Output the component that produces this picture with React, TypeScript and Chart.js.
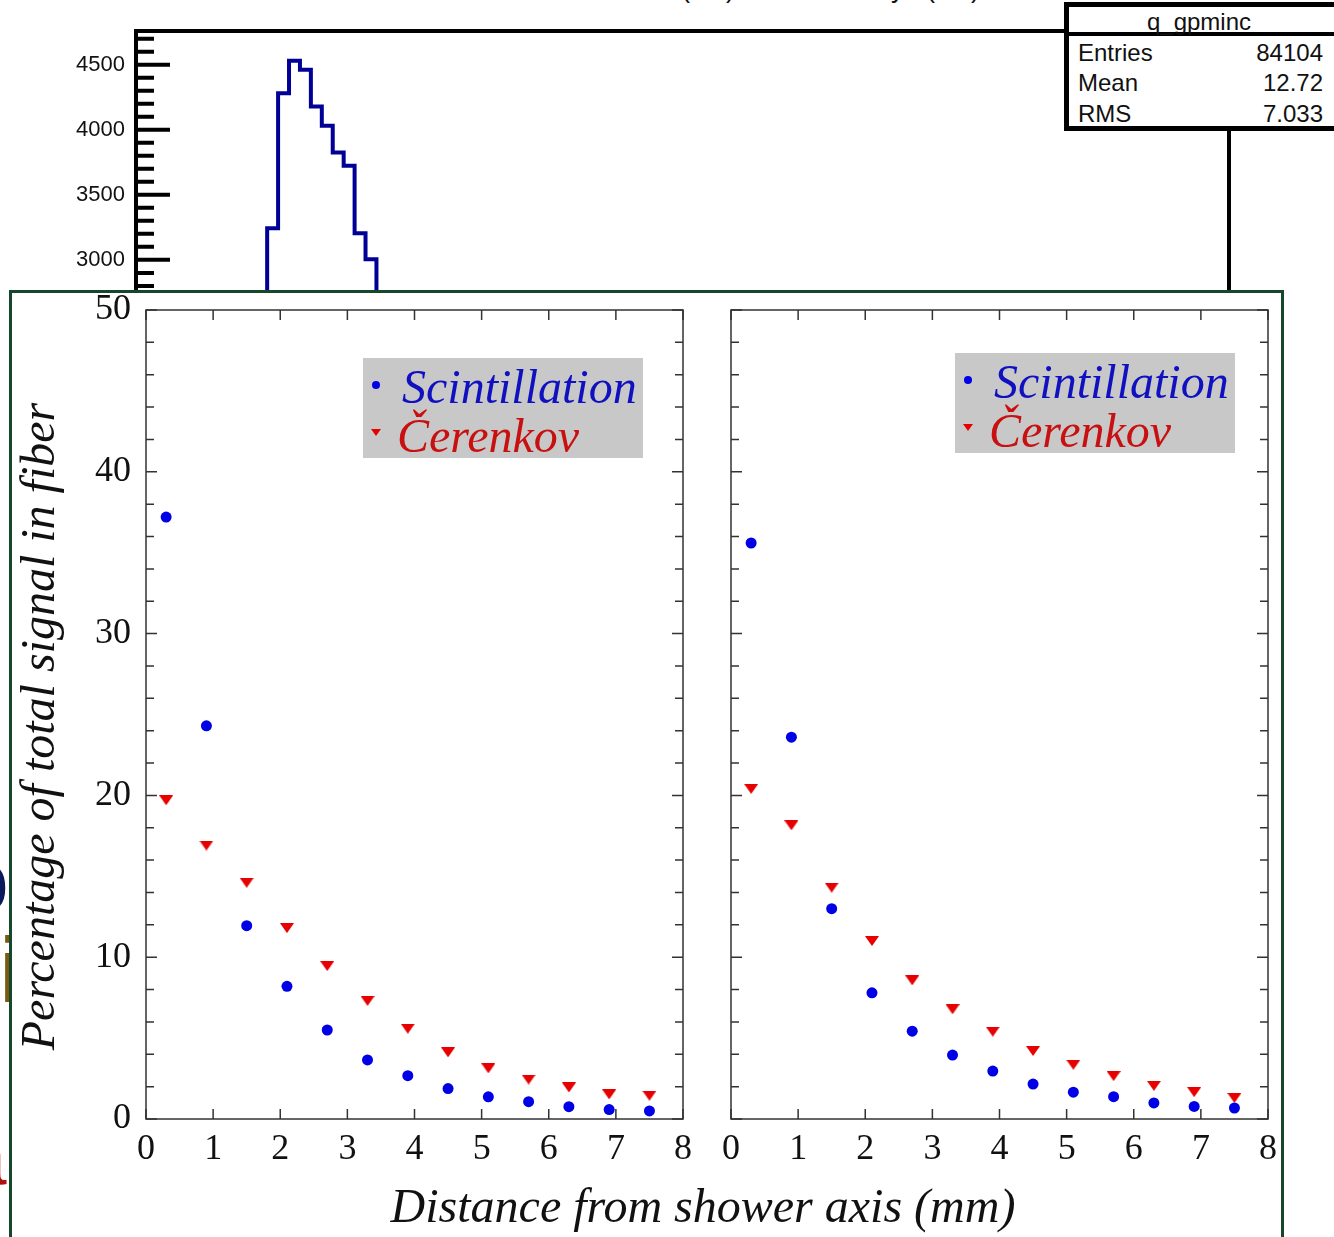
import React, { useEffect, useRef } from "react";
import { Chart, registerables } from "chart.js";

Chart.register(...registerables);

// ---------- Background ROOT histogram "q_gpminc" ----------
const histBinEdges = [12, 13, 14, 15, 16, 17, 18, 19, 20, 21, 22];
const histCounts = [3244, 4282, 4531, 4462, 4179, 4031, 3826, 3723, 3205, 3005];
const histYTicks = [3000, 3500, 4000, 4500];
const histTitle = "q_gpminc";
const histStatsLabels = ["Entries", "Mean", "RMS"];
const histStatsValues = ["84104", "12.72", "7.033"];

// ---------- Overlay: lateral shower profile ----------
const fiberDistance = [0.3, 0.9, 1.5, 2.1, 2.7, 3.3, 3.9, 4.5, 5.1, 5.7, 6.3, 6.9, 7.5];
const leftScintillation = [37.2, 24.3, 11.95, 8.2, 5.5, 3.65, 2.68, 1.88, 1.37, 1.07, 0.76, 0.58, 0.5];
const leftCerenkov = [19.7, 16.9, 14.6, 11.8, 9.45, 7.3, 5.58, 4.12, 3.13, 2.44, 1.95, 1.52, 1.44];
const rightScintillation = [35.6, 23.6, 13.0, 7.8, 5.43, 3.95, 2.96, 2.16, 1.66, 1.38, 0.99, 0.78, 0.68];
const rightCerenkov = [20.4, 18.15, 14.3, 11.0, 8.57, 6.78, 5.4, 4.2, 3.35, 2.65, 2.05, 1.66, 1.3];
const seriesNames = ["Scintillation", "Čerenkov"];
const xTickValues = [0, 1, 2, 3, 4, 5, 6, 7, 8];
const yTickValues = [0, 10, 20, 30, 40, 50];
const yAxisTitle = "Percentage of total signal in fiber";
const xAxisTitle = "Distance from shower axis (mm)";

const SERIF = "'Liberation Serif', 'Times New Roman', Times, serif";
const SANS = "'Liberation Sans', Arial, Helvetica, sans-serif";
const BLUE = "#0000e6";
const RED = "#e60000";
const TEXT_BLUE = "#1010c0";
const TEXT_RED = "#c81010";

function makeTriangle(color: string) {
  const c = document.createElement("canvas");
  c.width = 14;
  c.height = 10;
  const g = c.getContext("2d")!;
  g.fillStyle = color;
  g.beginPath();
  g.moveTo(0, 0);
  g.lineTo(14, 0);
  g.lineTo(7, 10);
  g.closePath();
  g.fill();
  return c;
}

const histFrame = {
  id: "histFrame",
  afterDatasetsDraw(chart: any) {
    const { ctx, chartArea: a, scales } = chart;
    const y = scales.y;
    ctx.save();
    ctx.strokeStyle = "#000";
    ctx.lineWidth = 4;
    ctx.lineCap = "square";
    ctx.beginPath();
    ctx.moveTo(a.left, a.bottom);
    ctx.lineTo(a.left, a.top);
    ctx.lineTo(a.right, a.top);
    ctx.lineTo(a.right, a.bottom);
    ctx.stroke();
    ctx.lineCap = "butt";
    ctx.beginPath();
    for (let v = 0; v <= y.max; v += 100) {
      const py = y.getPixelForValue(v);
      const len = v % 500 === 0 ? 34 : 18;
      ctx.moveTo(a.left, py);
      ctx.lineTo(a.left + len, py);
    }
    ctx.stroke();
    ctx.restore();
  },
};

const frameTicks = {
  id: "frameTicks",
  beforeDatasetsDraw(chart: any) {
    const { ctx, chartArea: a, scales } = chart;
    const x = scales.x;
    const y = scales.y;
    ctx.save();
    ctx.strokeStyle = "#333";
    ctx.lineWidth = 1.5;
    ctx.strokeRect(a.left, a.top, a.right - a.left, a.bottom - a.top);
    ctx.beginPath();
    for (const t of x.ticks) {
      const px = x.getPixelForValue(t.value);
      ctx.moveTo(px, a.bottom);
      ctx.lineTo(px, a.bottom - 10);
      ctx.moveTo(px, a.top);
      ctx.lineTo(px, a.top + 10);
    }
    for (let v = y.min; v <= y.max; v += 2) {
      const py = y.getPixelForValue(v);
      const len = v % 10 === 0 ? 11 : 8;
      ctx.moveTo(a.left, py);
      ctx.lineTo(a.left + len, py);
      ctx.moveTo(a.right, py);
      ctx.lineTo(a.right - len, py);
    }
    ctx.stroke();
    ctx.restore();
  },
};

function histConfig(): any {
  const pts: { x: number; y: number }[] = [{ x: histBinEdges[0], y: 0 }];
  histCounts.forEach((c, i) => pts.push({ x: histBinEdges[i], y: c }));
  const last = histBinEdges[histBinEdges.length - 1];
  pts.push({ x: last, y: histCounts[histCounts.length - 1] });
  pts.push({ x: last, y: 0 });
  return {
    type: "line",
    data: {
      datasets: [
        {
          label: histTitle,
          data: pts,
          stepped: true,
          borderColor: "#000096",
          borderWidth: 4,
          pointRadius: 0,
          fill: false,
          borderJoinStyle: "miter",
        },
      ],
    },
    options: {
      responsive: false,
      animation: false,
      events: [],
      layout: { padding: { top: 31, right: 105, left: 0, bottom: 0 } },
      plugins: { legend: { display: false }, tooltip: { enabled: false } },
      scales: {
        x: { type: "linear", min: 0, max: 100, display: false },
        y: {
          type: "linear",
          min: 0,
          max: 4760,
          afterBuildTicks: (s: any) => {
            s.ticks = histYTicks.map((v) => ({ value: v }));
          },
          ticks: {
            font: { family: SANS, size: 22 },
            color: "#111",
            padding: 11,
            callback: (v: any) => String(v),
          },
          grid: { display: false, drawTicks: false },
          border: { display: false },
          afterFit: (s: any) => {
            s.width = 136;
            s.paddingTop = 0;
            s.paddingBottom = 0;
          },
        },
      },
    },
    plugins: [histFrame],
  };
}

function scatterConfig(scint: number[], cer: number[], showY: boolean, yWidth: number, padRight: number, tri: HTMLCanvasElement): any {
  return {
    type: "scatter",
    data: {
      datasets: [
        {
          label: seriesNames[0],
          data: fiberDistance.map((x, i) => ({ x, y: scint[i] })),
          pointStyle: "circle",
          pointRadius: 5.5,
          backgroundColor: BLUE,
          borderWidth: 0,
        },
        {
          label: seriesNames[1],
          data: fiberDistance.map((x, i) => ({ x, y: cer[i] })),
          pointStyle: tri,
          pointRadius: 7,
          backgroundColor: RED,
          borderWidth: 0,
        },
      ],
    },
    options: {
      responsive: false,
      animation: false,
      events: [],
      layout: { padding: { top: 22, right: padRight, left: 0, bottom: 0 } },
      plugins: { legend: { display: false }, tooltip: { enabled: false } },
      scales: {
        x: {
          type: "linear",
          min: 0,
          max: 8,
          afterBuildTicks: (s: any) => {
            s.ticks = xTickValues.map((v) => ({ value: v }));
          },
          ticks: { font: { family: SERIF, size: 36 }, color: "#111", padding: 9, maxRotation: 0, autoSkip: false },
          grid: { display: false, drawTicks: false },
          border: { display: false },
          afterFit: (s: any) => {
            s.height = 69;
            s.paddingLeft = 0;
            s.paddingRight = 0;
          },
        },
        y: {
          type: "linear",
          min: 0,
          max: 50,
          afterBuildTicks: (s: any) => {
            s.ticks = yTickValues.map((v) => ({ value: v }));
          },
          ticks: { display: showY, font: { family: SERIF, size: 36 }, color: "#111", padding: 15 },
          grid: { display: false, drawTicks: false },
          border: { display: false },
          title: showY
            ? {
                display: true,
                text: yAxisTitle + "\u2002",
                color: "#111",
                font: { family: SERIF, size: 48, style: "italic", lineHeight: 1 },
                padding: { top: 5, bottom: 0 },
              }
            : { display: false },
          afterFit: (s: any) => {
            s.width = yWidth;
            s.paddingTop = 0;
            s.paddingBottom = 0;
          },
        },
      },
    },
    plugins: [frameTicks],
  };
}

function abs(left: number, top: number, extra: React.CSSProperties = {}): React.CSSProperties {
  return { position: "absolute", left, top, margin: 0, padding: 0, ...extra };
}

function LegendBox({ x, y }: { x: number; y: number }) {
  const txt: React.CSSProperties = {
    fontFamily: SERIF,
    fontStyle: "italic",
    fontSize: 48,
    lineHeight: "56px",
    whiteSpace: "nowrap",
  };
  return (
    <>
      <div style={abs(x, y, { width: 280, height: 100, background: "#c8c8c8" })} />
      <div style={abs(x + 9, y + 23, { width: 8, height: 8, borderRadius: "50%", background: BLUE })} />
      <div style={abs(x + 39, y + 45 - 44.2, { ...txt, color: TEXT_BLUE })}>{seriesNames[0]}</div>
      <div
        style={abs(x + 8, y + 71, {
          width: 0,
          height: 0,
          borderLeft: "5px solid transparent",
          borderRight: "5px solid transparent",
          borderTop: "7px solid " + RED,
        })}
      />
      <div style={abs(x + 34, y + 94 - 44.2, { ...txt, color: TEXT_RED })}>{seriesNames[1]}</div>
    </>
  );
}

export default function App() {
  const histRef = useRef<HTMLCanvasElement>(null);
  const leftRef = useRef<HTMLCanvasElement>(null);
  const rightRef = useRef<HTMLCanvasElement>(null);

  useEffect(() => {
    const tri = makeTriangle(RED);
    const charts = [
      new Chart(histRef.current as HTMLCanvasElement, histConfig()),
      new Chart(leftRef.current as HTMLCanvasElement, scatterConfig(leftScintillation, leftCerenkov, true, 134, 17, tri)),
      new Chart(rightRef.current as HTMLCanvasElement, scatterConfig(rightScintillation, rightCerenkov, false, 31, 32, tri)),
    ];
    return () => charts.forEach((c) => c.destroy());
  }, []);

  const statTxt: React.CSSProperties = { fontFamily: SANS, fontSize: 24, lineHeight: "30px", color: "#111", whiteSpace: "nowrap" };
  const titleFrag: React.CSSProperties = { fontFamily: SANS, fontSize: 27, lineHeight: "30px", color: "#111", whiteSpace: "nowrap" };

  return (
    <div style={{ position: "absolute", left: 0, top: 0, width: 1334, height: 1237, overflow: "hidden", background: "#fff" }}>
      {/* clipped fragments of the histogram title above the page */}
      <div style={abs(681, -27.4, titleFrag)}>(cm)</div>
      <div style={abs(891, -27.4, titleFrag)}>y</div>
      <div style={abs(926, -27.4, titleFrag)}>(cm)</div>

      <canvas ref={histRef} width={1334} height={650} style={abs(0, 0, { display: "block", width: 1334, height: 650 })} />

      {/* ROOT stats box */}
      <div style={abs(1064, 2, { width: 280, height: 129, border: "5px solid #000", boxSizing: "border-box", background: "#fff" })} />
      <div style={abs(1064, 32, { width: 280, height: 4, background: "#000" })} />
      <div style={abs(1064, 6.7, { ...statTxt, width: 270, textAlign: "center" })}>{histTitle}</div>
      {histStatsLabels.map((l, i) => (
        <React.Fragment key={l}>
          <div style={abs(1078, 37.7 + i * 30.5, statTxt)}>{l}</div>
          <div style={abs(1200, 37.7 + i * 30.5, { ...statTxt, width: 123, textAlign: "right" })}>{histStatsValues[i]}</div>
        </React.Fragment>
      ))}

      {/* fragments of slide text on the far left */}
      <div style={abs(0, 850, { width: 9, height: 380, overflow: "hidden" })}>
        <div style={abs(-40, -14, { fontFamily: SANS, fontSize: 88, lineHeight: "90px", color: "#0a1a5a" })}>o</div>
        <div style={abs(-1, 70, { fontFamily: SANS, fontSize: 92, lineHeight: "100px", color: "#7a5a10" })}>i</div>
        <div style={abs(-38, 262, { fontFamily: SANS, fontSize: 80, lineHeight: "90px", color: "#b01010" })}>a</div>
      </div>

      {/* overlay panel */}
      <div style={abs(9, 290, { width: 1275, height: 1000, border: "3px solid #14472b", boxSizing: "border-box", background: "#fff" })} />

      <canvas ref={leftRef} width={688} height={900} style={abs(12, 288, { display: "block", width: 688, height: 900 })} />
      <canvas ref={rightRef} width={600} height={900} style={abs(700, 288, { display: "block", width: 600, height: 900 })} />

      <LegendBox x={363} y={358} />
      <LegendBox x={955} y={353} />

      <div
        style={abs(0, 1222 - 44.2, {
          width: 1406,
          textAlign: "center",
          fontFamily: SERIF,
          fontStyle: "italic",
          fontSize: 48,
          lineHeight: "56px",
          color: "#111",
          whiteSpace: "nowrap",
        })}
      >
        {xAxisTitle}
      </div>
    </div>
  );
}
